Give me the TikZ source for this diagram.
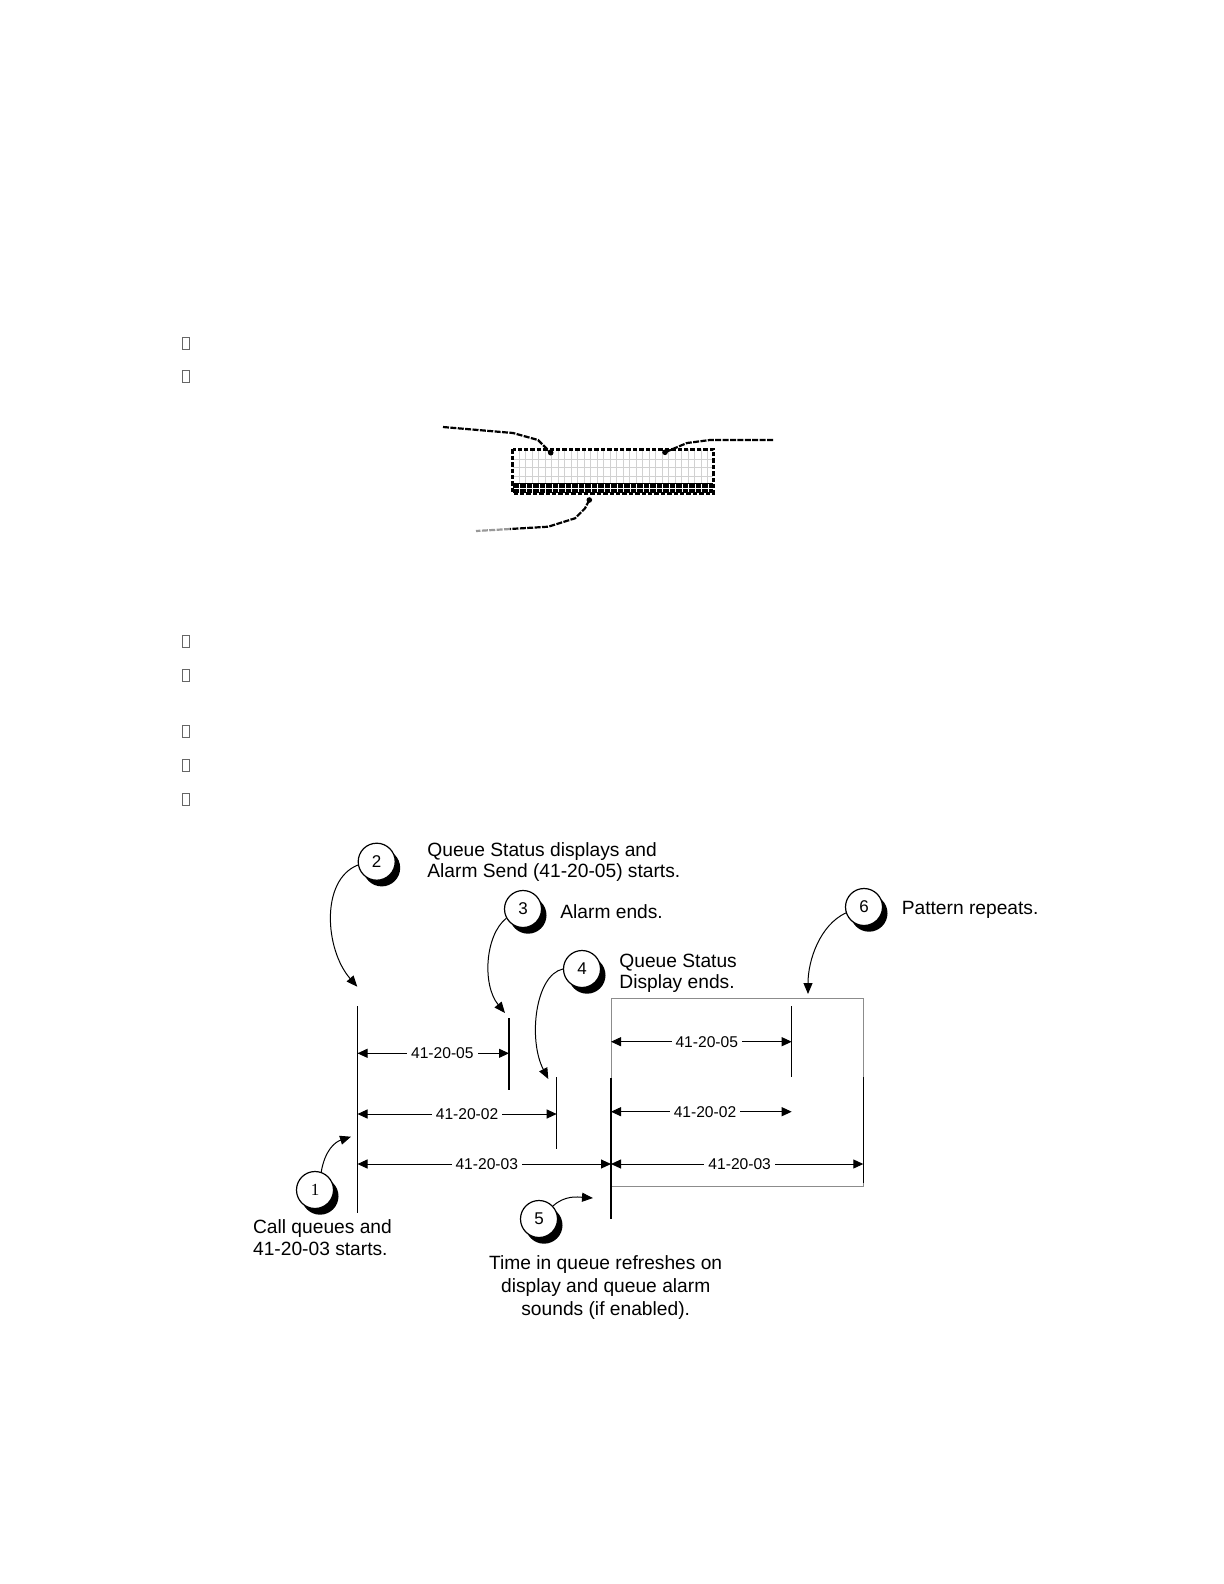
\documentclass[tikz,border=0pt]{standalone}
\usepackage{fontspec}
\setmainfont{Liberation Sans}
\newfontfamily\numserif{Liberation Serif}
\usetikzlibrary{arrows.meta,shadows}
\tikzset{
  callout/.style={circle, draw, line width=0.6pt, fill=white, minimum size=18.5pt, inner sep=0pt,
                  font=\fontsize{8.5}{9}\selectfont,
                  drop shadow={shadow xshift=2.5pt, shadow yshift=-3.1pt, fill=black, opacity=1}},
  note/.style={inner sep=0pt, align=left, font=\fontsize{9.6}{10.6}\selectfont},
  pointer/.style={-{Triangle[length=5.5pt,width=4.5pt]}, line width=0.5pt},
  dimline/.style={{Triangle[length=5pt,width=4.5pt]}-{Triangle[length=5pt,width=4.5pt]}, line width=0.5pt},
  dimlabel/.style={fill=white, inner sep=2pt, font=\fontsize{7.8}{9}\selectfont},
  marker/.style={line width=0.6pt},
  period/.style={draw=black!45, line width=0.4pt},
  gridline/.style={draw=black!18, line width=0.3pt},
  leader/.style={line width=1.1pt, dash pattern=on 3pt off 0.7pt},
  glyphbox/.style={draw=black!60, line width=0.35pt, minimum width=3.8pt, minimum height=6pt, inner sep=0pt},
}
\begin{document}
\begin{tikzpicture}[x=0.5pt, y=-0.5pt]
  \useasboundingbox (0,0) rectangle (1224,1584);
  \foreach \yy [count=\i] in {343.3,376.7,641.5,675.5,731.7,765.5,799.7}
    \node[glyphbox] (bullet\i) at (186,\yy) {};

  % display panel
  \foreach \gx in {519.2,525.7,...,710} \draw[gridline] (\gx,449.3) -- (\gx,484);
  \foreach \gy in {459.3,467.3,476} \draw[gridline] (512.7,\gy) -- (713.3,\gy);
  \fill (512.7,483) rectangle (713.3,493.3);
  \foreach \gx in {519.2,525.7,...,710} \draw[white, line width=0.2pt] (\gx,484) -- (\gx,493.3);
  \draw[white, line width=0.2pt] (512.7,488.5) -- (713.3,488.5);
  \draw[line width=1.3pt, dash pattern=on 2.2pt off 1pt] (512.7,449.3) rectangle (713.3,493.3);
  \coordinate (lcd1) at (550.7,452.7);
  \coordinate (lcd2) at (665,452.3);
  \coordinate (lcd3) at (589.3,500);
  \draw[leader] (443,427) -- (513,433) -- (538,440) -- (lcd1);
  \draw[leader] (773,440) -- (710,440) -- (687,443) -- (lcd2);
  \draw[leader] (lcd3) -- (585,508.3) -- (575,518.3) -- (548.3,526.7) -- (510,529);
  \draw[leader, black!40] (510,529) -- (476,531);
  \foreach \d in {lcd1,lcd2,lcd3} \fill (\d) circle (1.4pt);

  % timing chart
  \draw[period] (611,998) rectangle (863.3,1186.7);
  \foreach \mx/\ytop/\ybot/\lw [count=\i from 0] in {357.5/1006/1213/0.75, 509/1018/1090/0.55,
      556.7/1077/1149/0.55, 611/1078/1219/0.7, 791.7/1006/1077/0.55, 863.3/1077/1183/0.7} {
    \coordinate (m\i) at (\mx,\ytop);
    \draw[marker, line width=\lw pt] (m\i) -- (\mx,\ybot);
  }
  \coordinate (ra) at (0,1053.3);
  \coordinate (rb) at (0,1114);
  \coordinate (rc) at (0,1164);
  \coordinate (rd) at (0,1041.7);
  \coordinate (re) at (0,1111.7);
  \draw[dimline] (m0 |- ra) -- node[dimlabel, pos=0.56] {41-20-05} (m1 |- ra);
  \draw[dimline] (m0 |- rb) -- node[dimlabel, pos=0.55] {41-20-02} (m2 |- rb);
  \draw[dimline] (m0 |- rc) -- node[dimlabel, pos=0.51] {41-20-03} (m3 |- rc);
  \draw[dimline] (m3 |- rd) -- node[dimlabel, pos=0.53] {41-20-05} (m4 |- rd);
  \draw[dimline] (m3 |- re) -- node[dimlabel, pos=0.52] {41-20-02} (m4 |- re);
  \draw[dimline] (m3 |- rc) -- node[dimlabel, pos=0.51] {41-20-03} (m5 |- rc);

  \node[callout, font=\fontsize{8.5}{9}\numserif] (c1) at (315,1190) {1};
  \node[callout] (c2) at (376.7,861.7) {2};
  \node[callout] (c3) at (523,909) {3};
  \node[callout] (c4) at (582,969) {4};
  \node[callout] (c5) at (539,1219) {5};
  \node[callout] (c6) at (864,907) {6};
  \coordinate (p1) at (351,1136.7);
  \coordinate (p2) at (357.3,986.7);
  \coordinate (p3) at (505,1013);
  \coordinate (p4) at (548.3,1079);
  \coordinate (p5) at (593,1198);
  \coordinate (p6) at (808,994);
  \draw[pointer] (c1.71) .. controls (325,1150) and (335,1142) .. (p1);
  \draw[pointer] (c2.190) .. controls (320,880) and (325,950) .. (p2);
  \draw[pointer] (c3.209) .. controls (485,935) and (482,985) .. (p3);
  \draw[pointer] (c4.180) .. controls (535,975) and (528,1040) .. (p4);
  \draw[pointer] (c5.43) .. controls (565,1195) and (578,1197) .. (p5);
  \draw[pointer] (c6.198) .. controls (820,925) and (808,960) .. (p6);

  \node[note, anchor=base west] (t1) at (252.7,1255) {Call queues and\\41-20-03 starts.};
  \node[note, anchor=base west] (t2) at (427,877.3) {Queue Status displays and\\Alarm Send (41-20-05) starts.};
  \node[note, anchor=base west] (t3) at (560,918.3) {Alarm ends.};
  \node[note, anchor=base west] (t4) at (619,988.3) {Queue Status\\Display ends.};
  \node[note, anchor=base, align=center, font=\fontsize{9.6}{11.5}\selectfont] (t5) at (605.7,1315.7)
    {Time in queue refreshes on\\display and queue alarm\\sounds (if enabled).};
  \node[note, anchor=base west] (t6) at (901.4,914.6) {Pattern repeats.};
\end{tikzpicture}
\end{document}
